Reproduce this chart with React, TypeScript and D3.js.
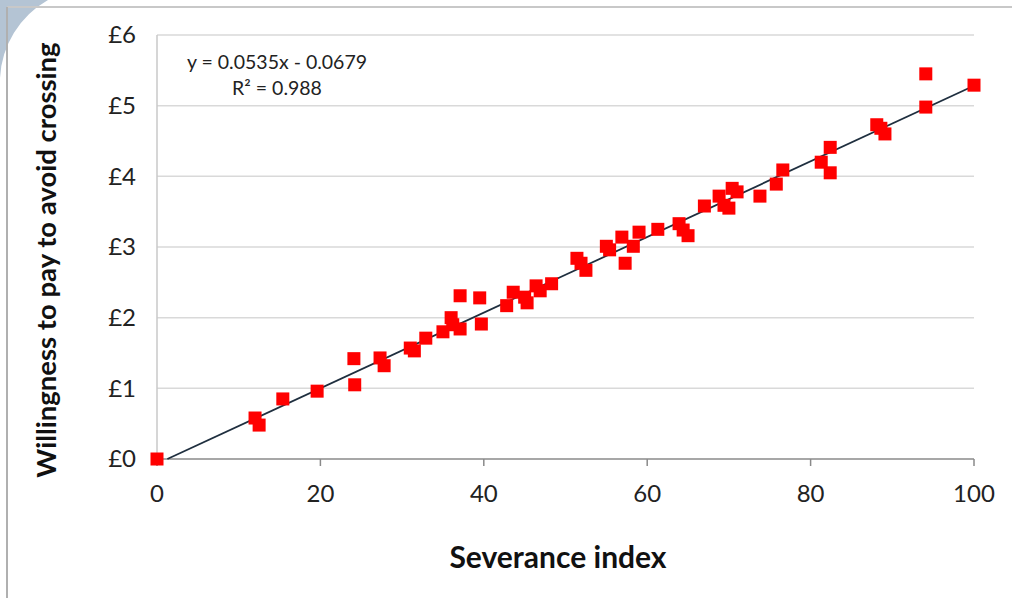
import React from "react";
import * as d3 from "d3";

// severance index (x) and willingness to pay in £ (y)
const severance = [
  0, 12.0, 12.5, 15.4, 19.6, 24.1, 24.2, 27.3, 27.8, 31.0, 31.5, 32.9, 35.0, 36.0, 36.2, 37.1, 37.1,
  39.5, 39.7, 42.8, 43.6, 45.0, 45.3, 46.4, 46.9, 48.3, 51.4, 51.9, 52.5, 55.0, 55.4, 56.9, 57.3,
  58.3, 59.0, 61.3, 63.9, 64.4, 65.0, 67.0, 68.8, 69.4, 70.0, 70.4, 71.0, 73.8, 75.8, 76.6, 81.3,
  82.4, 82.4, 88.1, 88.6, 89.1, 94.1, 94.1, 100,
];
const willingness = [
  0, 0.58, 0.48, 0.85, 0.96, 1.42, 1.05, 1.43, 1.32, 1.57, 1.53, 1.71, 1.8, 2.0, 1.9, 2.31, 1.84,
  2.28, 1.91, 2.17, 2.36, 2.29, 2.21, 2.45, 2.38, 2.48, 2.84, 2.77, 2.67, 3.01, 2.96, 3.14, 2.77,
  3.01, 3.21, 3.25, 3.33, 3.24, 3.16, 3.58, 3.72, 3.59, 3.55, 3.83, 3.78, 3.72, 3.89, 4.09, 4.2,
  4.41, 4.05, 4.73, 4.68, 4.6, 5.45, 4.98, 5.29,
];
const xTicks = [0, 20, 40, 60, 80, 100];
const yTicks = [0, 1, 2, 3, 4, 5, 6];
const slope = 0.0535;
const intercept = -0.0679;

const font = "Lato, sans-serif";

export default function App() {
  const x = d3.scaleLinear().domain([0, 100]).range([157, 974]);
  const y = d3.scaleLinear().domain([0, 6]).range([459, 35]);
  const size = 13;

  const xStart = -intercept / slope;
  const trend = d3.line<number>()
    .x((d) => x(d))
    .y((d) => y(slope * d + intercept));

  return (
    <svg
      width={1012}
      height={598}
      style={{ position: "absolute", left: 0, top: 0, background: "#fff" }}
    >
      <path d="M0,0 L48,0 A95,95 0 0 0 0,78 Z" fill="#b4c4d4" />
      <line x1={7} y1={7} x2={1012} y2={7} stroke="#c8c8c8" strokeWidth={2} />
      <line x1={7} y1={7} x2={7} y2={598} stroke="#b0b0b0" strokeWidth={2} />

      {yTicks.filter((t) => t > 0).map((t) => (
        <line key={t} x1={x(0)} x2={x(100)} y1={y(t)} y2={y(t)} stroke="#d9d9d9" strokeWidth={1.5} />
      ))}
      <line x1={x(0)} x2={x(0)} y1={y(6)} y2={y(0)} stroke="#c8c8c8" strokeWidth={1.5} />
      <line x1={x(0)} x2={x(100)} y1={y(0)} y2={y(0)} stroke="#8a8a8a" strokeWidth={1.5} />
      {xTicks.map((t) => (
        <line key={t} x1={x(t)} x2={x(t)} y1={y(0)} y2={y(0) + 7} stroke="#8a8a8a" strokeWidth={1.5} />
      ))}

      {yTicks.map((t) => (
        <text key={t} x={136} y={y(t)} dy="0.35em" textAnchor="end" fontFamily={font} fontSize={24} fill="#222">
          £{t}
        </text>
      ))}
      {xTicks.map((t) => (
        <text key={t} x={x(t)} y={494} dy="0.35em" textAnchor="middle" fontFamily={font} fontSize={24} fill="#222">
          {t}
        </text>
      ))}

      <path d={trend([xStart, 100]) ?? ""} fill="none" stroke="#1f2f3f" strokeWidth={1.8} />

      {severance.map((s, i) => (
        <rect
          key={i}
          x={x(s) - size / 2}
          y={y(willingness[i]) - size / 2}
          width={size}
          height={size}
          fill="#ff0000"
        />
      ))}

      <text x={277} y={62} dy="0.35em" textAnchor="middle" fontFamily={font} fontSize={19.5} fill="#222">
        y = 0.0535x - 0.0679
      </text>
      <text x={277} y={88} dy="0.35em" textAnchor="middle" fontFamily={font} fontSize={19.5} fill="#222">
        R² = 0.988
      </text>

      <text x={558} y={557} dy="0.35em" textAnchor="middle" fontFamily={font} fontSize={30} fontWeight="bold" fill="#111">
        Severance index
      </text>
      <text
        transform="translate(46,260) rotate(-90)"
        dy="0.35em"
        textAnchor="middle"
        fontFamily={font}
        fontSize={27.5}
        fontWeight="bold"
        fill="#111"
      >
        Willingness to pay to avoid crossing
      </text>
    </svg>
  );
}
